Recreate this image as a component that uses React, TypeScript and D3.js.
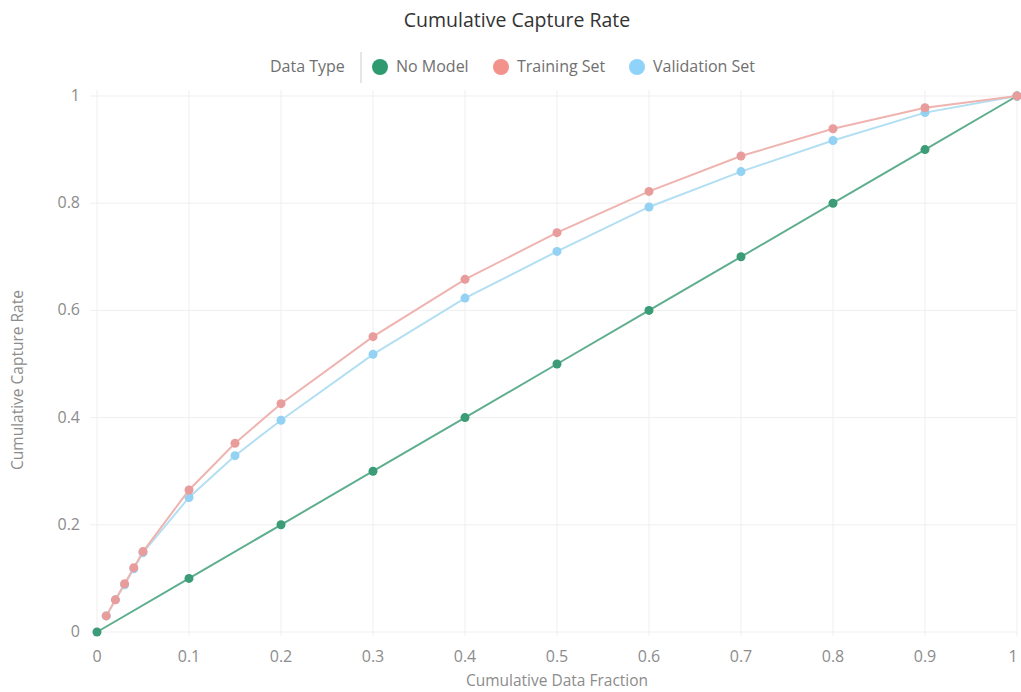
import * as d3 from "d3";

const fractions = [0, 0.01, 0.02, 0.03, 0.04, 0.05, 0.1, 0.15, 0.2, 0.3, 0.4, 0.5, 0.6, 0.7, 0.8, 0.9, 1];
const trainingRate = [null, 0.03, 0.06, 0.09, 0.12, 0.15, 0.265, 0.352, 0.426, 0.551, 0.658, 0.745, 0.822, 0.888, 0.939, 0.978, 1];
const validationRate = [null, 0.03, 0.06, 0.088, 0.118, 0.148, 0.251, 0.329, 0.395, 0.518, 0.623, 0.71, 0.793, 0.859, 0.917, 0.969, 1];
const noModelX = [0, 0.1, 0.2, 0.3, 0.4, 0.5, 0.6, 0.7, 0.8, 0.9, 1];
const noModelRate = [0, 0.1, 0.2, 0.3, 0.4, 0.5, 0.6, 0.7, 0.8, 0.9, 1];
const xTicks = [0, 0.1, 0.2, 0.3, 0.4, 0.5, 0.6, 0.7, 0.8, 0.9, 1];
const yTicks = [0, 0.2, 0.4, 0.6, 0.8, 1];

const W = 1021;
const H = 692;
const font = "'Open Sans', sans-serif";

type Pt = { x: number; y: number };

function toPoints(xs: number[], ys: (number | null)[]): Pt[] {
  const out: Pt[] = [];
  xs.forEach((x, i) => {
    const y = ys[i];
    if (y !== null && y !== undefined) out.push({ x, y });
  });
  return out;
}

const series = [
  { name: "No Model", pts: toPoints(noModelX, noModelRate), line: "#5fae8e", dot: "#3b9c77" },
  { name: "Validation Set", pts: toPoints(fractions, validationRate), line: "#b3dff3", dot: "#93d2f2" },
  { name: "Training Set", pts: toPoints(fractions, trainingRate), line: "#efb4b0", dot: "#e99c9c" },
];

export default function App() {
  const x = d3.scaleLinear().domain([0, 1]).range([97, 1017]);
  const y = d3.scaleLinear().domain([0, 1]).range([632, 96]);
  const line = d3
    .line<Pt>()
    .x((d) => x(d.x))
    .y((d) => y(d.y));

  // legend swatches
  const legendItems = [
    { name: "No Model", color: "#2f9a70", cx: 380 },
    { name: "Training Set", color: "#f3918b", cx: 501 },
    { name: "Validation Set", color: "#8fd3fa", cx: 637 },
  ];

  return (
    <div style={{ position: "absolute", left: 0, top: 0 }}>
      <svg width={W} height={H} style={{ display: "block", background: "#fff" }}>
        {xTicks.map((t) => (
          <line key={"gx" + t} x1={x(t)} x2={x(t)} y1={90} y2={636} stroke="#efefef" strokeWidth={1} />
        ))}
        {yTicks.map((t) => (
          <line key={"gy" + t} x1={90} x2={1017} y1={y(t)} y2={y(t)} stroke="#efefef" strokeWidth={1} />
        ))}

        {xTicks.map((t) => (
          <text key={"tx" + t} x={t === 1 ? x(t) - 4 : x(t)} y={662} textAnchor="middle" fontFamily={font} fontSize={16} fill="#8c8c8c">
            {d3.format("~g")(t)}
          </text>
        ))}
        {yTicks.map((t) => (
          <text key={"ty" + t} x={80} y={y(t) + 5} textAnchor="end" fontFamily={font} fontSize={16} fill="#8c8c8c">
            {d3.format("~g")(t)}
          </text>
        ))}
        <text x={557} y={686} textAnchor="middle" fontFamily={font} fontSize={15.5} fill="#8c8c8c">
          Cumulative Data Fraction
        </text>
        <text
          transform="translate(23,380) rotate(-90)"
          textAnchor="middle"
          fontFamily={font}
          fontSize={15.5}
          fill="#8c8c8c"
        >
          Cumulative Capture Rate
        </text>

        <text x={517} y={27} textAnchor="middle" fontFamily={font} fontSize={19.5} fill="#333">
          Cumulative Capture Rate
        </text>

        <text x={270} y={72} fontFamily={font} fontSize={16} fill="#707070">
          Data Type
        </text>
        <line x1={361} x2={361} y1={52} y2={83} stroke="#ccc" strokeWidth={1} />
        {legendItems.map((d) => (
          <g key={d.name}>
            <circle cx={d.cx} cy={67} r={8} fill={d.color} />
            <text x={d.cx + 16} y={72} fontFamily={font} fontSize={16} fill="#707070">
              {d.name}
            </text>
          </g>
        ))}

        {series.map((s) => (
          <g key={s.name}>
            <path d={line(s.pts) ?? ""} fill="none" stroke={s.line} strokeWidth={2} />
            {s.pts.map((p, i) => (
              <circle key={i} cx={x(p.x)} cy={y(p.y)} r={4.5} fill={s.dot} />
            ))}
          </g>
        ))}
      </svg>
    </div>
  );
}
